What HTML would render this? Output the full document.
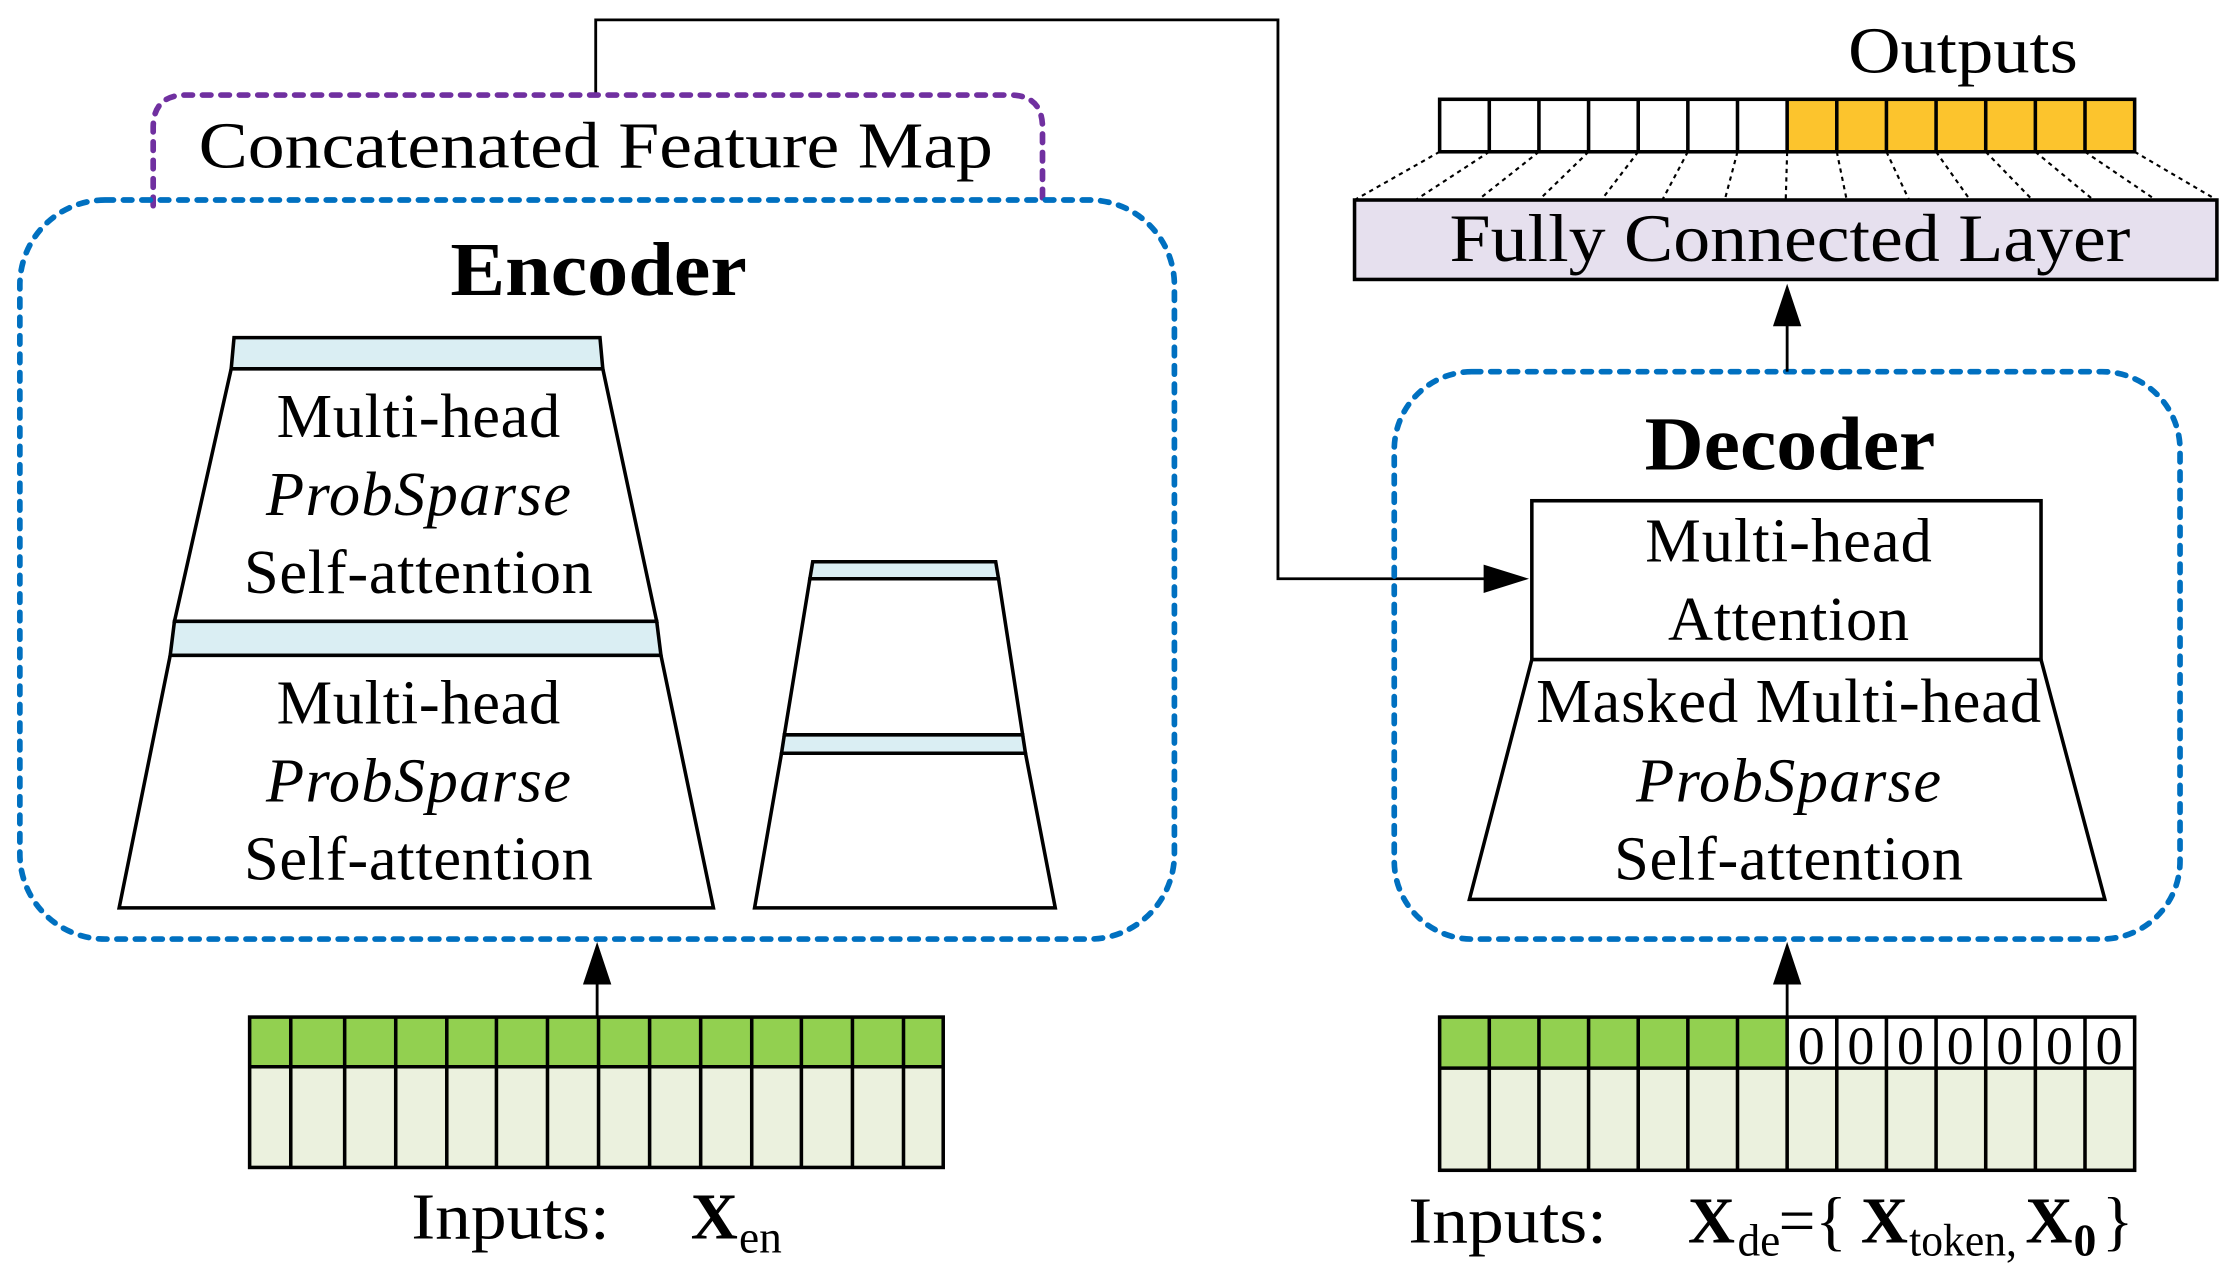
<!DOCTYPE html>
<html><head><meta charset="utf-8"><style>
html,body{margin:0;padding:0;background:#fff}
svg{display:block}
text{font-family:"Liberation Serif",serif;fill:#000}
</style></head><body>
<svg width="2224" height="1271" viewBox="0 0 1568 896" preserveAspectRatio="none" xmlns="http://www.w3.org/2000/svg">
<!-- connector from concat map to decoder -->
<path d="M420,67 V14 H901 V408 H1060" fill="none" stroke="#000" stroke-width="2"/>
<path d="M1078,408 L1046,398 L1046,418 z" fill="#000"/>
<!-- purple box -->
<path d="M108,145 V90 Q108,67 131,67 H712 Q735,67 735,90 V145" fill="none" stroke="#7030a0" stroke-width="4" stroke-dasharray="6,7" stroke-linecap="round"/>
<text x="420" y="118" font-size="46" text-anchor="middle" textLength="560" lengthAdjust="spacingAndGlyphs">Concatenated Feature Map</text>
<!-- encoder box -->
<rect x="14" y="141" width="814" height="521" rx="60" fill="none" stroke="#0070c0" stroke-width="4" stroke-dasharray="6,7" stroke-linecap="round"/>
<text x="422" y="208" font-size="54" font-weight="bold" text-anchor="middle" textLength="209" lengthAdjust="spacingAndGlyphs">Encoder</text>
<!-- big trapezoid -->
<polygon points="165,238 423,238 425,260 163,260" fill="#daeef3" stroke="#000" stroke-width="2.5"/>
<polygon points="163,260 425,260 463,438 123,438" fill="#fff" stroke="#000" stroke-width="2.5"/>
<polygon points="123,438 463,438 466,462 120,462" fill="#daeef3" stroke="#000" stroke-width="2.5"/>
<polygon points="120,462 466,462 503,640 84,640" fill="#fff" stroke="#000" stroke-width="2.5"/>
<g font-size="44" text-anchor="middle" lengthAdjust="spacingAndGlyphs">
<text x="295" y="308" textLength="200">Multi-head</text>
<text x="295" y="363" font-style="italic" textLength="215">ProbSparse</text>
<text x="295" y="418" textLength="246">Self-attention</text>
<text x="295" y="510" textLength="200">Multi-head</text>
<text x="295" y="565" font-style="italic" textLength="215">ProbSparse</text>
<text x="295" y="620" textLength="246">Self-attention</text>
</g>
<!-- small trapezoid -->
<polygon points="573,396 702,396 704,408 571,408" fill="#daeef3" stroke="#000" stroke-width="2.5"/>
<polygon points="571,408 704,408 721,518 553,518" fill="#fff" stroke="#000" stroke-width="2.5"/>
<polygon points="553,518 721,518 723,531 551,531" fill="#daeef3" stroke="#000" stroke-width="2.5"/>
<polygon points="551,531 723,531 744,640 532,640" fill="#fff" stroke="#000" stroke-width="2.5"/>
<!-- encoder input arrow -->
<line x1="421" y1="717" x2="421" y2="690" stroke="#000" stroke-width="2"/>
<path d="M421,664 L411,694 L431,694 z"/>
<!-- encoder input grid -->
<rect x="176" y="717" width="489" height="35" fill="#92d050"/>
<rect x="176" y="752" width="489" height="71" fill="#ebf1de"/>
<g stroke="#000" stroke-width="2.5" fill="none">
<rect x="176" y="717" width="489" height="106"/>
<line x1="176" y1="752" x2="665" y2="752"/>
<path d="M205,717V823M243,717V823M279,717V823M315,717V823M350,717V823M386,717V823M422,717V823M458,717V823M494,717V823M530,717V823M565,717V823M601,717V823M637,717V823"/>
</g>
<text x="290" y="873" font-size="46" textLength="140" lengthAdjust="spacingAndGlyphs">Inputs:</text>
<text x="487" y="873" font-size="46" font-weight="bold">X</text>
<text x="521" y="883" font-size="32">en</text>
<!-- decoder box -->
<rect x="983" y="262" width="554" height="400" rx="55" fill="none" stroke="#0070c0" stroke-width="4" stroke-dasharray="6,7" stroke-linecap="round"/>
<text x="1262" y="331" font-size="54" font-weight="bold" text-anchor="middle" textLength="205" lengthAdjust="spacingAndGlyphs">Decoder</text>
<rect x="1080" y="353" width="359" height="112" fill="#fff" stroke="#000" stroke-width="2.5"/>
<polygon points="1080,465 1439,465 1484,634 1036,634" fill="#fff" stroke="#000" stroke-width="2.5"/>
<g font-size="44" text-anchor="middle" lengthAdjust="spacingAndGlyphs">
<text x="1261" y="396" textLength="202">Multi-head</text>
<text x="1261" y="451" textLength="170">Attention</text>
<text x="1261" y="509" textLength="356">Masked Multi-head</text>
<text x="1261" y="565" font-style="italic" textLength="215">ProbSparse</text>
<text x="1261" y="620" textLength="246">Self-attention</text>
</g>
<!-- decoder arrows -->
<line x1="1260" y1="717" x2="1260" y2="690" stroke="#000" stroke-width="2"/>
<path d="M1260,664 L1250,694 L1270,694 z"/>
<line x1="1260" y1="262" x2="1260" y2="228" stroke="#000" stroke-width="2"/>
<path d="M1260,200 L1250,230 L1270,230 z"/>
<!-- decoder input grid -->
<rect x="1015" y="717" width="245" height="36" fill="#92d050"/>
<rect x="1015" y="753" width="490" height="72" fill="#ebf1de"/>
<g stroke="#000" stroke-width="2.5" fill="none">
<rect x="1015" y="717" width="490" height="108"/>
<line x1="1015" y1="753" x2="1505" y2="753"/>
<path d="M1050,717V825M1085,717V825M1120,717V825M1155,717V825M1190,717V825M1225,717V825M1260,717V825M1295,717V825M1330,717V825M1365,717V825M1400,717V825M1435,717V825M1470,717V825"/>
</g>
<g font-size="38" text-anchor="middle">
<text x="1277" y="750">0</text><text x="1312" y="750">0</text><text x="1347" y="750">0</text><text x="1382" y="750">0</text><text x="1417" y="750">0</text><text x="1452" y="750">0</text><text x="1487" y="750">0</text>
</g>
<text x="993" y="876" font-size="46" textLength="140" lengthAdjust="spacingAndGlyphs">Inputs:</text>
<text x="1190" y="876" font-size="46" font-weight="bold">X</text>
<text x="1225" y="885" font-size="32">de</text>
<text x="1254" y="876" font-size="46">={</text>
<text x="1312" y="876" font-size="46" font-weight="bold">X</text>
<text x="1346" y="885" font-size="32" textLength="76" lengthAdjust="spacingAndGlyphs">token,</text>
<text x="1428" y="876" font-size="46" font-weight="bold">X</text>
<text x="1462" y="885" font-size="32" font-weight="bold">0</text>
<text x="1482" y="876" font-size="46">}</text>
<!-- FC layer -->
<rect x="955" y="141" width="608" height="56" fill="#e6e0ee" stroke="#000" stroke-width="2.5"/>
<text x="1262" y="184" font-size="48" text-anchor="middle" textLength="480" lengthAdjust="spacingAndGlyphs">Fully Connected Layer</text>
<!-- dotted fan -->
<g stroke="#000" stroke-width="1.5" stroke-dasharray="3,3">
<line x1="1015" y1="107" x2="955" y2="141"/><line x1="1050" y1="107" x2="998" y2="141"/><line x1="1085" y1="107" x2="1042" y2="141"/><line x1="1120" y1="107" x2="1085" y2="141"/><line x1="1155" y1="107" x2="1129" y2="141"/><line x1="1190" y1="107" x2="1172" y2="141"/><line x1="1225" y1="107" x2="1216" y2="141"/><line x1="1260" y1="107" x2="1259" y2="141"/><line x1="1295" y1="107" x2="1302" y2="141"/><line x1="1330" y1="107" x2="1346" y2="141"/><line x1="1365" y1="107" x2="1389" y2="141"/><line x1="1400" y1="107" x2="1433" y2="141"/><line x1="1435" y1="107" x2="1476" y2="141"/><line x1="1470" y1="107" x2="1520" y2="141"/><line x1="1505" y1="107" x2="1563" y2="141"/>
</g>
<!-- outputs -->
<rect x="1260" y="70" width="245" height="37" fill="#fcc42d"/>
<g stroke="#000" stroke-width="2.5" fill="none">
<rect x="1015" y="70" width="490" height="37"/>
<path d="M1050,70V107M1085,70V107M1120,70V107M1155,70V107M1190,70V107M1225,70V107M1260,70V107M1295,70V107M1330,70V107M1365,70V107M1400,70V107M1435,70V107M1470,70V107"/>
</g>
<text x="1384" y="51" font-size="46" text-anchor="middle" textLength="162" lengthAdjust="spacingAndGlyphs">Outputs</text>
</svg>
</body></html>
